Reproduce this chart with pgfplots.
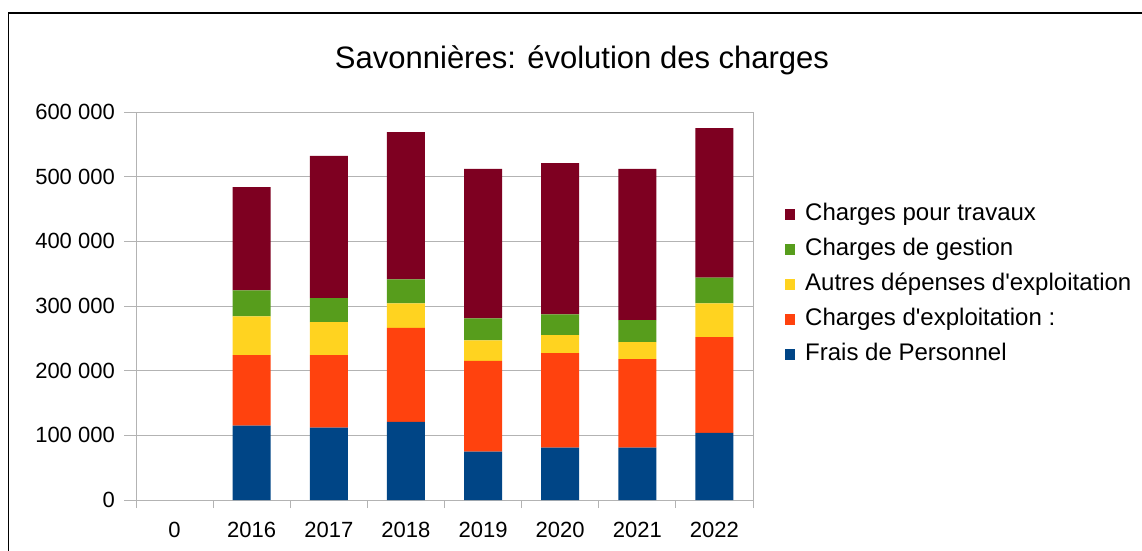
\documentclass[border=0pt]{standalone}
\usepackage{pgfplots}
\pgfplotsset{compat=1.18}
\usepackage{fontspec}
\setmainfont{Liberation Sans}
\definecolor{cTrav}{HTML}{7E0021}
\definecolor{cGest}{HTML}{579D1C}
\definecolor{cAutr}{HTML}{FFD320}
\definecolor{cExpl}{HTML}{FF420E}
\definecolor{cPers}{HTML}{004586}
\definecolor{cAxis}{HTML}{B3B3B3}
\begin{document}
\begin{tikzpicture}[x=1pt,y=1pt]
\useasboundingbox (0,0) rectangle (1142,550);
\draw[line width=1.5pt] (8.5,-5) -- (8.5,537) -- (1150,537);
\node[font=\fontsize{31}{36}\selectfont] at (582,490) {Savonnières: évolution des charges};
\begin{axis}[at={(136pt,50pt)}, anchor=south west, scale only axis,
  width=617pt, height=388pt,
  ybar stacked, bar width=38pt,
  xmin=-0.5, xmax=7.5, ymin=0, ymax=600000,
  xtick={0,1,2,3,4,5,6,7},
  xticklabels={0,2016,2017,2018,2019,2020,2021,2022},
  minor xtick={-0.5,0.5,1.5,2.5,3.5,4.5,5.5,6.5,7.5},
  ytick={0,100000,200000,300000,400000,500000,600000},
  yticklabels={0,100 000,200 000,300 000,400 000,500 000,600 000},
  scaled y ticks=false,
  tick align=outside, xtick pos=bottom, ytick pos=left,
  major tick length=12pt, minor tick length=8pt,
  major x tick style={draw=none},
  every tick/.style={cAxis, line width=1pt},
  axis line style={cAxis, line width=1pt},
  ymajorgrids, grid style={cAxis, line width=1pt},
  yticklabel style={font=\fontsize{22}{26}\selectfont, inner sep=0pt, xshift=-9pt},
  xticklabel style={font=\fontsize{22}{26}\selectfont, inner sep=0pt, yshift=-10pt},
  legend image code/.code={\fill[#1] (0pt,-5.5pt) rectangle (10pt,5.5pt);},
  reverse legend,
  legend cell align=left,
  legend style={at={(1.0519,0.556)}, anchor=west, draw=none, fill=none,
    inner sep=0pt, row sep=13pt, font=\fontsize{24}{28}\selectfont,
    nodes={inner sep=0pt, text height=17pt, text depth=5pt},
    /tikz/every odd column/.append style={column sep=10pt}},
]
\addplot[fill=cPers, draw=none] coordinates {(0,0) (1,115000) (2,112000) (3,121000) (4,75000) (5,81000) (6,81000) (7,104000)};
\addplot[fill=cExpl, draw=none] coordinates {(0,0) (1,109000) (2,112000) (3,145000) (4,140000) (5,146000) (6,137000) (7,148000)};
\addplot[fill=cAutr, draw=none] coordinates {(0,0) (1,60000) (2,51000) (3,38000) (4,32000) (5,28000) (6,26000) (7,52000)};
\addplot[fill=cGest, draw=none] coordinates {(0,0) (1,40000) (2,37000) (3,37000) (4,34000) (5,32000) (6,34000) (7,40000)};
\addplot[fill=cTrav, draw=none] coordinates {(0,0) (1,160000) (2,220000) (3,228000) (4,231000) (5,234000) (6,234000) (7,231000)};
\legend{Frais de Personnel,Charges d\textquotesingle exploitation :,Autres dépenses d\textquotesingle exploitation,Charges de gestion,Charges pour travaux}
\end{axis}
\end{tikzpicture}
\end{document}
